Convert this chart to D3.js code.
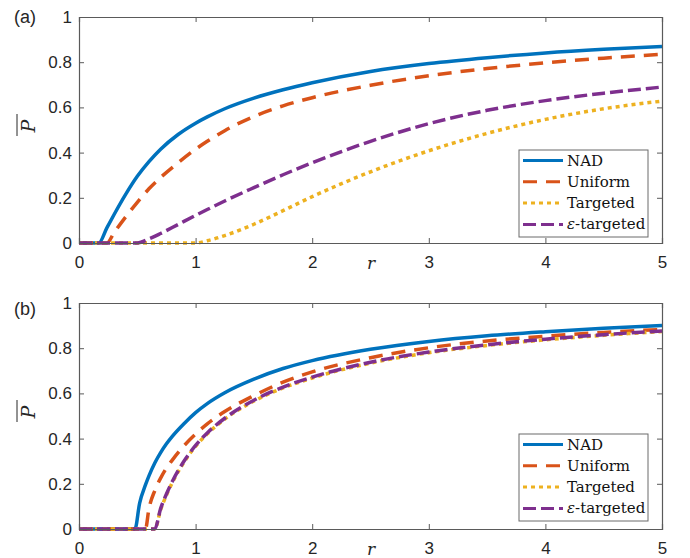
<!DOCTYPE html>
<html>
<head>
<meta charset="utf-8">
<script src="https://cdnjs.cloudflare.com/ajax/libs/d3/7.8.5/d3.min.js"></script>
<style>
  body { margin: 0; background: #fff; }
  svg { display: block; }
  .sans { font-family: "Liberation Sans", Arial, Helvetica, sans-serif; }
  .serif { font-family: "DejaVu Serif", "Liberation Serif", serif; }
</style>
</head>
<body>
<div id="chart"></div>
<script>
// Series names (legend order = draw order)
var seriesNames = ["NAD", "Uniform", "Targeted", "ε-targeted"];
var xTicks = [0, 1, 2, 3, 4, 5];
var yTicks = [0, 0.2, 0.4, 0.6, 0.8, 1];
var yTickLabels = ["0", "0.2", "0.4", "0.6", "0.8", "1"];

// Panel (a) sample points
var rA = [0, 0.17, 0.24, 0.3, 0.4, 0.5, 0.6, 0.7, 0.85, 1, 1.1, 1.25, 1.5, 1.75, 2, 2.5, 3, 3.5, 4, 4.5, 5];
var nadA      = [0, 0, 0.068, 0.125, 0.215, 0.295, 0.36, 0.415, 0.48, 0.53, 0.558, 0.594, 0.641, 0.678, 0.709, 0.759, 0.794, 0.82, 0.841, 0.857, 0.87];
var uniformA  = [0, 0, 0, 0.045, 0.115, 0.18, 0.24, 0.29, 0.355, 0.415, 0.45, 0.497, 0.56, 0.607, 0.643, 0.698, 0.74, 0.772, 0.797, 0.818, 0.835];
var targetedA = [0, 0, 0, 0, 0, 0, 0, 0, 0, 0, 0.01, 0.033, 0.083, 0.143, 0.205, 0.315, 0.408, 0.485, 0.547, 0.594, 0.628];
var epsA      = [0, 0, 0, 0, 0, 0, 0.018, 0.042, 0.082, 0.122, 0.148, 0.186, 0.245, 0.302, 0.355, 0.45, 0.528, 0.587, 0.63, 0.663, 0.69];

// Panel (b) sample points
var rB = [0, 0.48, 0.52, 0.57, 0.6, 0.65, 0.7, 0.75, 0.8, 0.9, 1, 1.1, 1.25, 1.5, 1.75, 2, 2.5, 3, 3.5, 4, 4.5, 5];
var nadB      = [0, 0, 0.115, 0.195, 0.235, 0.292, 0.338, 0.377, 0.41, 0.466, 0.515, 0.555, 0.603, 0.663, 0.71, 0.745, 0.795, 0.83, 0.855, 0.873, 0.888, 0.90];
var uniformB  = [0, 0, 0, 0, 0.09, 0.17, 0.225, 0.27, 0.305, 0.368, 0.42, 0.465, 0.52, 0.59, 0.65, 0.695, 0.758, 0.802, 0.832, 0.853, 0.87, 0.883];
var targetedB = [0, 0, 0, 0, 0, 0, 0.085, 0.15, 0.205, 0.295, 0.366, 0.421, 0.486, 0.566, 0.624, 0.668, 0.734, 0.78, 0.812, 0.837, 0.857, 0.874];
var epsB      = [0, 0, 0, 0, 0, 0, 0.09, 0.155, 0.21, 0.30, 0.37, 0.425, 0.49, 0.57, 0.628, 0.672, 0.738, 0.783, 0.815, 0.84, 0.86, 0.876];

// MATLAB default colours and line styles
var colors = ["#0072BD", "#D95319", "#EDB120", "#7E2F8E"];
var dashes = [null, "14,9", "4,4", "13,5"];

var width = 690, height = 558;
var margin = {left: 79, right: 28};
var plotW = width - margin.left - margin.right,
    plotH = 226;

var panels = [
  {label: "(a)", top: 17, r: rA, ys: [nadA, uniformA, targetedA, epsA], legendTop: 150, labelY: 23},
  {label: "(b)", top: 303, r: rB, ys: [nadB, uniformB, targetedB, epsB], legendTop: 434, labelY: 315}
];

var svg = d3.select("#chart")
  .append("svg")
    .attr("width", width)
    .attr("height", height);

var x = d3.scaleLinear().domain([0, 5]).range([0, plotW]);
var y = d3.scaleLinear().domain([0, 1]).range([plotH, 0]);

var axisColor = "#5a5a5a",
    textColor = "#262626";

panels.forEach(function(p) {
  var g = svg.append("g")
      .attr("transform", "translate(" + margin.left + "," + p.top + ")");

  // curves
  p.ys.forEach(function(vals, i) {
    var pts = p.r.map(function(r, k) { return [r, vals[k]]; });
    var line = d3.line()
      .x(function(d) { return x(d[0]); })
      .y(function(d) { return y(d[1]); })
      .curve(d3.curveMonotoneX);
    g.append("path")
      .datum(pts)
      .attr("d", line)
      .attr("fill", "none")
      .attr("stroke", colors[i])
      .attr("stroke-width", 3.5)
      .attr("stroke-dasharray", dashes[i]);
  });

  // axes: bottom / left with labels, top / right ticks only (MATLAB box on)
  var bottom = g.append("g")
      .attr("transform", "translate(0," + plotH + ")")
      .call(d3.axisBottom(x).tickValues(xTicks).tickSize(-5).tickPadding(13).tickFormat(d3.format("d")));
  var top = g.append("g")
      .call(d3.axisTop(x).tickValues(xTicks).tickSize(-5).tickFormat(""));
  var left = g.append("g")
      .call(d3.axisLeft(y).tickValues(yTicks).tickSize(-5).tickPadding(7)
        .tickFormat(function(d, i) { return yTickLabels[i]; }));
  var right = g.append("g")
      .attr("transform", "translate(" + plotW + ",0)")
      .call(d3.axisRight(y).tickValues(yTicks).tickSize(-5).tickFormat(""));

  [bottom, top, left, right].forEach(function(a) {
    a.attr("font-family", null).attr("font-size", null);
    a.select(".domain").attr("stroke", axisColor).attr("stroke-width", 1.2);
    a.selectAll(".tick line").attr("stroke", axisColor);
    a.selectAll("text")
      .attr("class", "sans")
      .attr("fill", textColor)
      .attr("font-size", 17);
  });

  // x label r
  g.append("text")
    .attr("class", "serif")
    .attr("x", 292)
    .attr("y", plotH + 26)
    .attr("text-anchor", "middle")
    .attr("font-style", "italic")
    .attr("font-size", 17)
    .attr("fill", textColor)
    .text("r");

  // y label P with overbar
  var yl = svg.append("g")
      .attr("transform", "translate(35," + (p.top + 109) + ") rotate(-90)");
  yl.append("text")
    .attr("class", "serif")
    .attr("text-anchor", "middle")
    .attr("font-style", "italic")
    .attr("font-size", 19)
    .attr("fill", textColor)
    .text("P");
  yl.append("line")
    .attr("x1", -10).attr("x2", 12)
    .attr("y1", -18).attr("y2", -18)
    .attr("stroke", textColor)
    .attr("stroke-width", 1);

  // panel label
  svg.append("text")
    .attr("class", "sans")
    .attr("x", 14)
    .attr("y", p.labelY)
    .attr("font-size", 18)
    .attr("fill", textColor)
    .text(p.label);

  // legend
  var lg = svg.append("g")
      .attr("transform", "translate(519," + p.legendTop + ")");
  lg.append("rect")
    .attr("width", 129)
    .attr("height", 87)
    .attr("fill", "#fff")
    .attr("stroke", "#6a6a6a")
    .attr("stroke-width", 1);
  seriesNames.forEach(function(name, i) {
    var ry = 10.5 + i * 21.3;
    lg.append("line")
      .attr("x1", 4).attr("x2", 44)
      .attr("y1", ry).attr("y2", ry)
      .attr("stroke", colors[i])
      .attr("stroke-width", 3)
      .attr("stroke-dasharray", dashes[i]);
    var t = lg.append("text")
      .attr("class", "serif")
      .attr("x", 48)
      .attr("y", ry + 5)
      .attr("font-size", 15)
      .attr("fill", "#111");
    if (name.charAt(0) === "ε") {
      t.append("tspan").attr("font-style", "italic").text("ε");
      t.append("tspan").text(name.slice(1));
    } else {
      t.text(name);
    }
  });
});
</script>
</body>
</html>
